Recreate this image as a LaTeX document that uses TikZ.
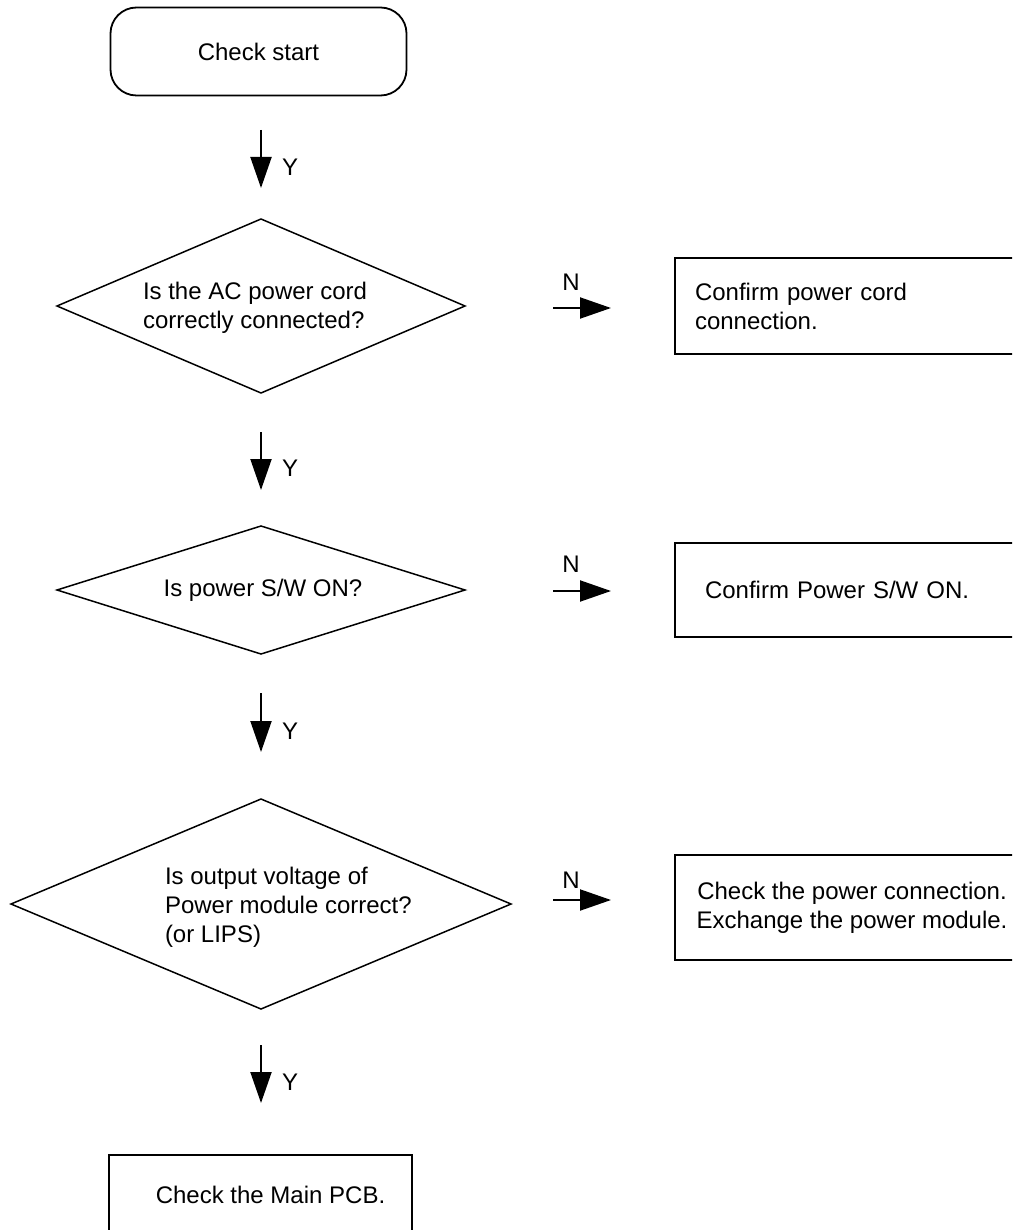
\documentclass[tikz,border=0pt]{standalone}
\usepackage{fontspec}
\setmainfont[Ligatures=NoCommon]{Liberation Sans}
\usetikzlibrary{shapes.geometric,arrows.meta}
\begin{document}
\begin{tikzpicture}[x=1pt,y=-1pt,
  every node/.style={font=\fontsize{24}{29}\selectfont, inner sep=0pt, outer sep=0pt},
  terminal/.style={draw, line width=1.8pt, rounded corners=26pt,
    minimum width=296pt, minimum height=88pt},
  decision/.style={draw, diamond, line width=1.5pt, aspect=1},
  procbox/.style={draw, rectangle, line width=1.8pt},
  flow/.style={line width=2pt, -{Triangle[length=31pt,width=21pt]}},
  txt/.style={align=left}
]
\useasboundingbox (0,0) rectangle (1012,1230);
\clip (0,0) rectangle (1012,1230);

% start terminal
\node[terminal] (start) at (258.5,51.5) {Check start};

% decisions
\node[decision, minimum width=408pt, minimum height=174pt] (d1) at (261,306) {};
\node[txt, anchor=west] (d1t) at (143,307.5) {Is the AC power cord\\correctly connected?};

\node[decision, minimum width=408pt, minimum height=128pt] (d2) at (261,590) {};
\node (d2t) at (263,590) {Is power S/W ON?};

\node[decision, minimum width=500pt, minimum height=210pt] (d3) at (261,904) {};
\node[txt, anchor=west] (d3t) at (165,907) {Is output voltage of\\Power module correct?\\(or LIPS)};

% action boxes
\node[procbox, anchor=west, minimum width=365pt, minimum height=96pt,
  inner xsep=20pt, text width=325pt, align=left] (b1) at (675,306)
  {Confirm power cord\\connection.};
\node[procbox, anchor=west, minimum width=365pt, minimum height=94pt,
  inner xsep=30pt, text width=305pt, align=left] (b2) at (675,590)
  {Confirm Power S/W ON.};
\node[procbox, anchor=west, minimum width=354pt, minimum height=105pt,
  align=center] (b3) at (675,907.5)
  {Check the power connection.\\Exchange the power module.};
\node[procbox, anchor=north, minimum width=303pt, minimum height=80pt] (b4)
  at (260.5,1155) {\hspace*{20pt}Check the Main PCB.};

% yes arrows
\coordinate (y1s) at (261,130);  \coordinate (y1e) at (261,188);
\coordinate (y2s) at (261,432);  \coordinate (y2e) at (261,490);
\coordinate (y3s) at (261,693);  \coordinate (y3e) at (261,752);
\coordinate (y4s) at (261,1045); \coordinate (y4e) at (261,1103);
\draw[flow] (y1s) -- (y1e);
\draw[flow] (y2s) -- (y2e);
\draw[flow] (y3s) -- (y3e);
\draw[flow] (y4s) -- (y4e);
\node[anchor=west] (ly1) at (282,167) {Y};
\node[anchor=west] (ly2) at (282,468) {Y};
\node[anchor=west] (ly3) at (282,731) {Y};
\node[anchor=west] (ly4) at (282,1082) {Y};

% no arrows
\coordinate (n1s) at (553,308); \coordinate (n1e) at (611,308);
\coordinate (n2s) at (553,591); \coordinate (n2e) at (611,591);
\coordinate (n3s) at (553,900); \coordinate (n3e) at (611,900);
\draw[flow] (n1s) -- (n1e);
\draw[flow] (n2s) -- (n2e);
\draw[flow] (n3s) -- (n3e);
\node (ln1) at (571,282) {N};
\node (ln2) at (571,564) {N};
\node (ln3) at (571,880) {N};
\end{tikzpicture}
\end{document}
